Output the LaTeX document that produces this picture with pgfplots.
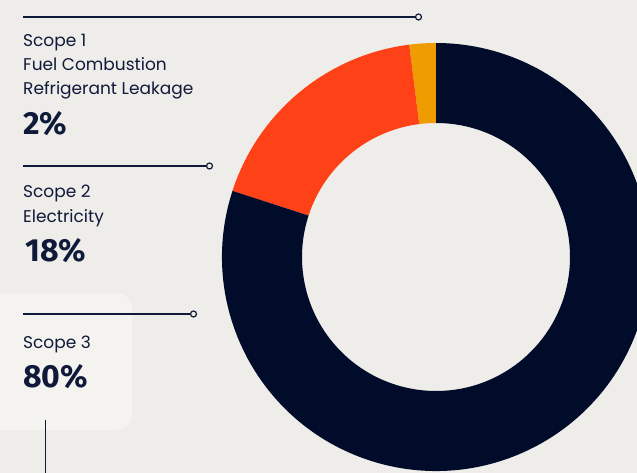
\documentclass[border=0pt]{standalone}
\usepackage{fontspec}
\setmainfont{Poppins}
\newfontfamily\numfont{Fira Sans}
\usepackage{pgfplots}
\pgfplotsset{compat=1.18}
\definecolor{bg}{HTML}{EFEDE9}
\definecolor{panel}{HTML}{F4F3F0}
\definecolor{navy}{HTML}{000C2A}
\definecolor{scarlet}{HTML}{FF4118}
\definecolor{amber}{HTML}{EE9C00}
\definecolor{ink}{HTML}{0F1A3A}

\begin{document}
\begin{tikzpicture}
\path[use as bounding box, fill=bg] (0,0) rectangle (637pt,473pt);
\begin{axis}[
  at={(0,0)}, anchor=south west,
  width=637pt, height=473pt, scale only axis,
  xmin=0, xmax=637, ymin=0, ymax=473,
  axis lines=none, clip=true]

% share of emissions per scope, drawn clockwise from 12 o'clock
\gdef\donutstart{90}
\foreach \v/\c in {2/amber,18/scarlet,80/navy}{
  \pgfmathsetmacro\b{\donutstart+3.6*\v}
  \edef\temp{\noexpand\fill[\c] ([shift={(\donutstart:214pt)}]axis cs:436,216)
    arc[start angle=\donutstart,end angle=\b,radius=214pt]
    -- ([shift={(\b:134pt)}]axis cs:436,216)
    arc[start angle=\b,end angle=\donutstart,radius=134pt] -- cycle;}
  \temp
  \xdef\donutstart{\b}
}

% highlight panel behind Scope 3
\fill[panel, rounded corners=16pt] (axis cs:-30,43) rectangle (axis cs:132,180);

% leader lines
\draw[ink, line width=1.2pt] (axis cs:23,456) -- (axis cs:415,456);
\draw[ink, line width=1.2pt, fill=bg] (axis cs:418.5,456) circle[radius=3pt];
\draw[ink, line width=1.2pt] (axis cs:23,307) -- (axis cs:206,307);
\draw[ink, line width=1.2pt, fill=bg] (axis cs:209.5,307) circle[radius=3pt];
\draw[ink, line width=1.2pt] (axis cs:23,159) -- (axis cs:190,159);
\draw[ink, line width=1.2pt, fill=bg] (axis cs:193.5,159) circle[radius=3pt];
\draw[ink, line width=1.2pt] (axis cs:45.5,53) -- (axis cs:45.5,0);

% labels
\begin{scope}[every node/.style={anchor=base west, inner sep=0pt, text=ink, font=\fontsize{17}{20}\selectfont}]
\node at (axis cs:23,426) {Scope 1};
\node at (axis cs:23,402) {Fuel Combustion};
\node at (axis cs:23,378) {Refrigerant Leakage};
\node at (axis cs:23,275) {Scope 2};
\node at (axis cs:23,250) {Electricity};
\node at (axis cs:23,124) {Scope 3};
\end{scope}
\begin{scope}[every node/.style={anchor=base west, inner sep=0pt, text=ink, font=\numfont\bfseries\fontsize{32}{36}\selectfont}]
\node at (axis cs:23,338) {2\%};
\node at (axis cs:25,211) {18\%};
\node at (axis cs:23,85) {80\%};
\end{scope}
\end{axis}
\end{tikzpicture}
\end{document}
